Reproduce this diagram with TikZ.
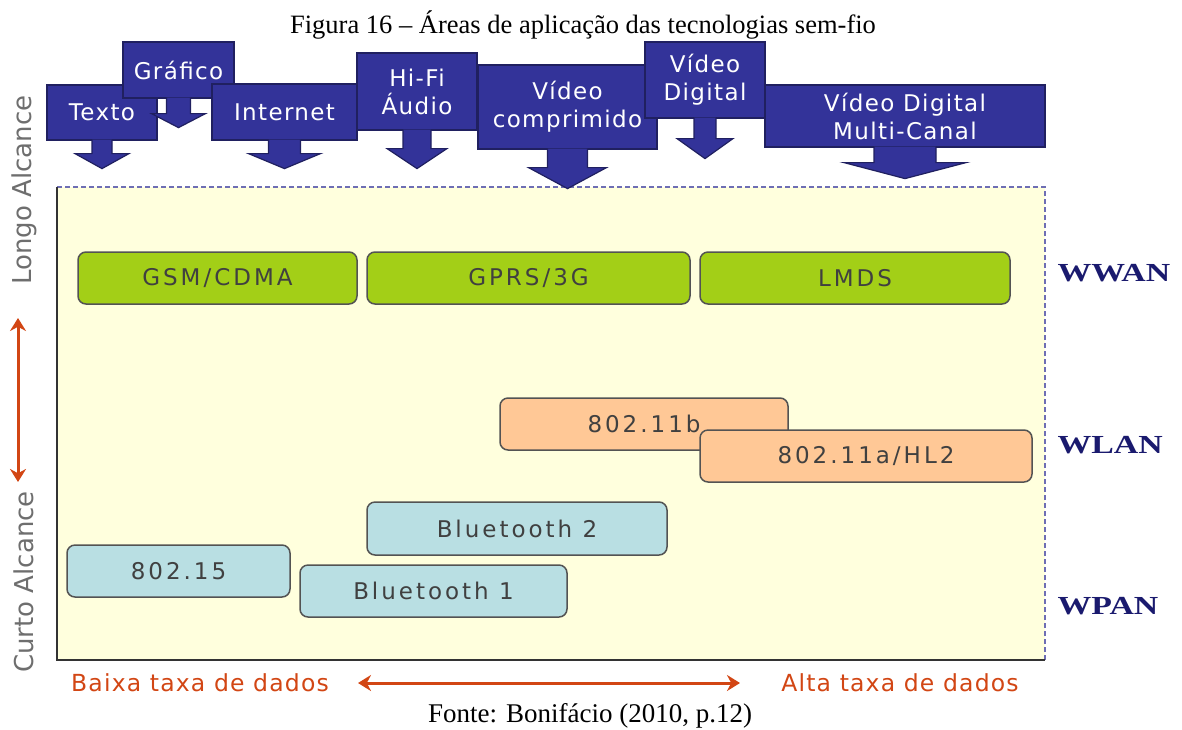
\documentclass[tikz,border=0pt]{standalone}
\usepackage{fontspec}
\setmainfont{Liberation Serif}
\newfontfamily\appfont{DejaVu Sans}[LetterSpace=6]
\newfontfamily\boxfont{DejaVu Sans}[LetterSpace=13]
\newfontfamily\ratefont{DejaVu Sans}[LetterSpace=5]
\newfontfamily\sidefont{DejaVu Sans}
\newfontfamily\netfont{Liberation Serif}[FakeStretch=1.3]
\usetikzlibrary{arrows.meta, calc}

\definecolor{appblue}{RGB}{51,51,153}
\definecolor{appedge}{RGB}{32,32,96}
\definecolor{panelfill}{RGB}{255,255,221}
\definecolor{paneldash}{RGB}{110,110,180}
\definecolor{wwangreen}{RGB}{163,207,23}
\definecolor{wlanorange}{RGB}{255,200,150}
\definecolor{wpanblue}{RGB}{185,223,227}
\definecolor{techgrey}{RGB}{64,64,64}
\definecolor{rateorange}{RGB}{210,70,20}
\definecolor{netnavy}{RGB}{26,26,110}
\definecolor{sidegrey}{RGB}{110,110,110}

% seta para baixo sob uma caixa: no, meia largura haste, meia largura ponta, haste, ponta
\newcommand{\appArrow}[5]{
\filldraw[apparrow] ($(#1.south)+(-#2,-1)$) -- ++(0,{#4+1}) -- ++({#2-#3},0) -- ++(#3,#5) -- ++(#3,-#5) -- ++({#2-#3},0) -- ++(0,{-#4-1});
}

\tikzset{
  appbox/.style={draw=appedge, fill=appblue, line width=1.2pt, text=white, align=center,
    inner sep=0pt, font={\appfont\fontsize{23}{28}\selectfont}},
  apparrow/.style={draw=appedge, fill=appblue, line width=1.2pt, line join=miter},
  techbox/.style={draw=techgrey!90, line width=1.5pt, rounded corners=8pt, text=techgrey,
    inner sep=0pt, minimum height=52pt, font={\boxfont\fontsize{23}{26}\selectfont}},
  netlabel/.style={text=netnavy, anchor=west, font={\netfont\bfseries\fontsize{26}{30}\selectfont}},
  sidelabel/.style={text=sidegrey, rotate=90, font={\sidefont\fontsize{26}{30}\selectfont}},
  ratelabel/.style={text=rateorange, font={\ratefont\fontsize{23.5}{27}\selectfont}},
  rangearrow/.style={draw=rateorange, line width=3pt, {Stealth[length=13pt,width=16pt]}-{Stealth[length=13pt,width=16pt]}}
}

\begin{document}
\begin{tikzpicture}[x=1pt, y=-1pt]
    \useasboundingbox (0,0) rectangle (1182,729);

    % Titulo
    \node (caption) at (583,25) {\fontsize{26.5}{30}\selectfont Figura 16 – Áreas de aplicação das tecnologias sem-fio};

    % Painel
    \coordinate (PanelNW) at (57,187);
    \coordinate (PanelSE) at (1045,660);
    \fill[panelfill] (PanelNW) rectangle (PanelSE);
    \draw[paneldash, line width=1.2pt, dash pattern=on 5pt off 3pt] (PanelNW) -| (PanelSE);
    \draw[black!80, line width=2pt] (PanelNW) |- (PanelSE);

    % Aplicacoes
    \node[appbox, minimum width=110pt, minimum height=55pt] (texto) at (102,112.5) {Texto};
    \appArrow{texto}{10}{27}{13}{15}
    \node[appbox, minimum width=111pt, minimum height=56pt] (grafico) at (178.5,70) {Gráfico};
    \appArrow{grafico}{12}{27}{15}{14}
    \node[appbox, minimum width=145pt, minimum height=56pt] (internet) at (284.5,112) {Internet};
    \appArrow{internet}{16}{36}{13}{15}
    \node[appbox, minimum width=120pt, minimum height=77pt] (hifi) at (417,91.5) {Hi-Fi\\Áudio};
    \appArrow{hifi}{14}{30}{18}{20}
    \node[appbox, minimum width=179pt, minimum height=84pt] (videocomp) at (567.5,107) {Vídeo\\comprimido};
    \appArrow{videocomp}{20}{39}{18}{21}
    \node[appbox, minimum width=120pt, minimum height=76pt] (videodig) at (705,80) {Vídeo\\Digital};
    \appArrow{videodig}{11}{28}{20}{20}
    \node[appbox, minimum width=280pt, minimum height=62pt] (multicanal) at (905,116) {Vídeo Digital\\Multi-Canal};
    \appArrow{multicanal}{31}{61}{15}{16}

    % Tecnologias
    \node[techbox, fill=wwangreen, minimum width=279pt] (gsm) at (217.5,278) {GSM/CDMA};
    \node[techbox, fill=wwangreen, minimum width=323pt] (gprs) at (528.5,278) {GPRS/3G};
    \node[techbox, fill=wwangreen, minimum width=310pt] (lmds) at (855,278) {LMDS};
    \node[techbox, fill=wlanorange, minimum width=288pt] (wifib) at (644,424) {802.11b};
    \node[techbox, fill=wlanorange, minimum width=332pt] (wifia) at (866,456) {802.11a/HL2};
    \node[techbox, fill=wpanblue, minimum width=300pt, minimum height=53pt] (bttwo) at (517,528.5) {Bluetooth 2};
    \node[techbox, fill=wpanblue, minimum width=223pt] (ieee) at (178.5,571) {802.15};
    \node[techbox, fill=wpanblue, minimum width=267pt] (btone) at (433.5,591) {Bluetooth 1};

    % Redes
    \node[netlabel] (wwan) at (1054,273) {WWAN};
    \node[netlabel] (wlan) at (1054,445) {WLAN};
    \node[netlabel] (wpan) at (1054,606) {WPAN};

    % Alcance
    \node[sidelabel] (longo) at (24,190) {Longo Alcance};
    \node[sidelabel] (curto) at (24,582) {Curto Alcance};
    \coordinate (RangeTop) at (18,318);
    \coordinate (RangeBot) at (18,482);
    \draw[rangearrow] (RangeTop) -- (RangeBot);

    % Taxa de dados
    \node[ratelabel] (baixa) at (200,683) {Baixa taxa de dados};
    \node[ratelabel] (alta) at (900,683) {Alta taxa de dados};
    \coordinate (RateLeft) at (358,683);
    \coordinate (RateRight) at (740,683);
    \draw[rangearrow] (RateLeft) -- (RateRight);

    % Fonte
    \node (fonte) at (590,716) {\fontsize{27}{30}\selectfont Fonte: Bonifácio (2010, p.12)};
\end{tikzpicture}
\end{document}
